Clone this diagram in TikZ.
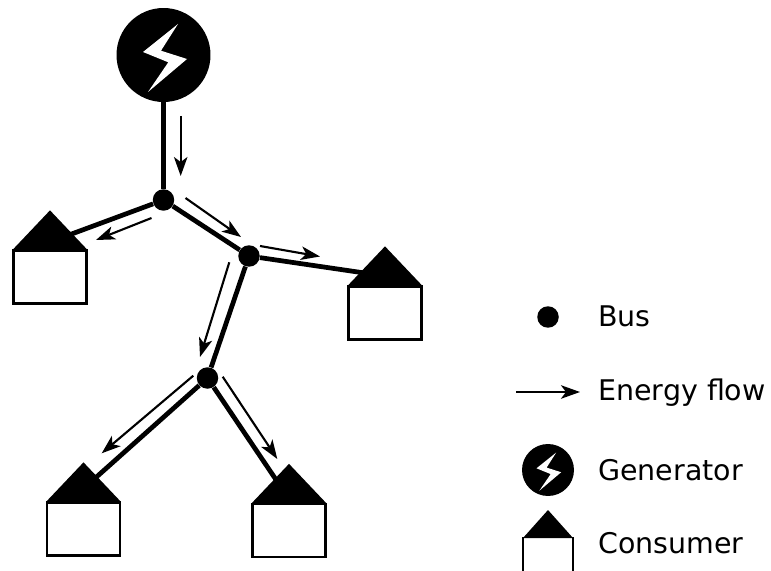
\documentclass[tikz,border=0pt]{standalone}
\usepackage{fontspec}
\setmainfont{DejaVu Sans}
\usetikzlibrary{arrows.meta,backgrounds}
\tikzset{
  bus/.style={circle, fill=black, inner sep=0pt, minimum size=0.43cm},
  generator/.style={circle, fill=black, inner sep=0pt, minimum size=#1},
  consumerbody/.style={rectangle, draw=black, fill=white, line width=1.3pt, inner sep=0pt, minimum width=1.46cm, minimum height=1.06cm},
  line/.style={line width=2.7pt},
  flow/.style={line width=1.2pt, -{Stealth[length=0.38cm, width=0.27cm, inset=0.1cm]}},
  legendtext/.style={anchor=base west, inner sep=0pt, font=\fontsize{16.2}{16.2}\selectfont},
  pics/bolt/.style={code={
    \fill[white] (14.5,-31) -- (-2.5,-4.3) -- (23.5,4) -- (-15.5,37) -- (4.8,7.3) -- (-20.5,-3) -- cycle;
  }},
  pics/roof/.style={code={
    \fill[black] (-37,0) -- (0,-39) -- (37,0) -- cycle;
  }}
}
\begin{document}
\begin{tikzpicture}[x=0.02cm, y=-0.02cm]
  \useasboundingbox (0,0) rectangle (771,571);

  % network
  \node[generator=1.88cm] (gen) at (163.5,55) {};
  \pic at (gen.center) {bolt};
  \node[bus] (busA) at (163.5,200) {};
  \node[bus] (busB) at (249,256) {};
  \node[bus] (busC) at (207.5,378) {};

  % consumers
  \node[consumerbody] (houseA) at (50,277) {};
  \pic at (houseA.north) {roof};
  \node[consumerbody] (houseB) at (385,313) {};
  \pic at (houseB.north) {roof};
  \node[consumerbody] (houseC) at (83.5,529) {};
  \pic at (houseC.north) {roof};
  \node[consumerbody] (houseD) at (289,530.5) {};
  \pic at (houseD.north) {roof};

  \coordinate (roofA) at (50,242);
  \coordinate (roofB) at (385,276);
  \coordinate (roofC) at (83,489);
  \coordinate (roofD) at (289,499);

  \begin{scope}[on background layer]
    \draw[line] (gen) -- (busA);
    \draw[line] (busA) -- (busB);
    \draw[line] (busB) -- (busC);
    \draw[line] (busA) -- (roofA);
    \draw[line] (busB) -- (roofB);
    \draw[line] (busC) -- (roofC);
    \draw[line] (busC) -- (roofD);
  \end{scope}

  % energy flow
  \coordinate (flowAs) at (180.7,116);   \coordinate (flowAe) at (180.7,176);
  \coordinate (flowBs) at (185.5,198);   \coordinate (flowBe) at (241,237);
  \coordinate (flowCs) at (151.5,218);   \coordinate (flowCe) at (96,240);
  \coordinate (flowDs) at (260,246);     \coordinate (flowDe) at (320,256.5);
  \coordinate (flowEs) at (229.3,262.3); \coordinate (flowEe) at (200,357);
  \coordinate (flowFs) at (193.3,375.7); \coordinate (flowFe) at (101.7,453.3);
  \coordinate (flowGs) at (222.7,376.7); \coordinate (flowGe) at (277.3,459);
  \foreach \f in {A,B,C,D,E,F,G}
    \draw[flow] (flow\f s) -- (flow\f e);

  % legend
  \node[bus] (legBus) at (548,317) {};
  \coordinate (legFlowS) at (516,392);
  \coordinate (legFlowE) at (580,392);
  \draw[flow] (legFlowS) -- (legFlowE);
  \node[generator=1.04cm] (legGen) at (548,470) {};
  \pic[scale=0.56] at (legGen.center) {bolt};
  \fill[black] (523,538) -- (548,510) -- (573,538) -- cycle;
  \draw[line width=1.3pt] (523,537) -- (523,571);
  \draw[line width=1.3pt] (573,537) -- (573,571);

  \node[legendtext] (txtBus) at (598,326.7) {Bus};
  \node[legendtext] (txtFlow) at (598,400) {Energy flow};
  \node[legendtext] (txtGen) at (598,480) {Generator};
  \node[legendtext] (txtCons) at (598,553) {Consumer};
\end{tikzpicture}
\end{document}
